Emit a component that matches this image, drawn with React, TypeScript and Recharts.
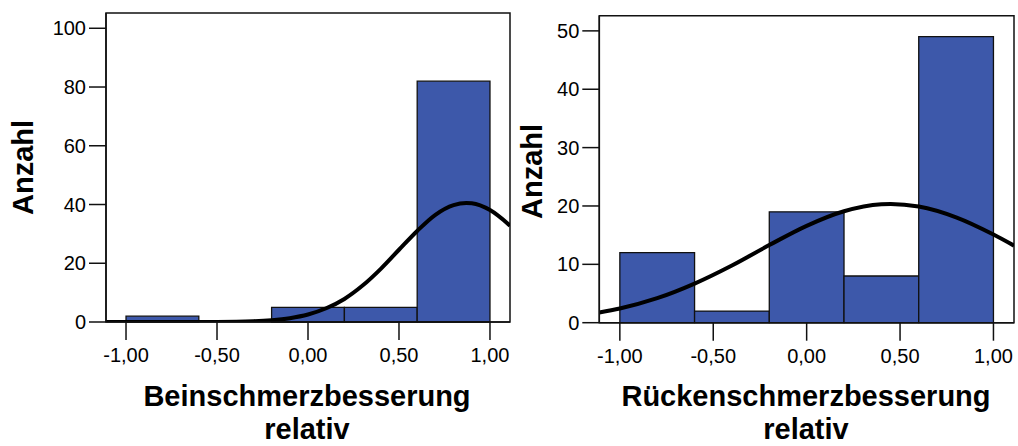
import { ComposedChart, Line, XAxis, YAxis, ReferenceArea } from 'recharts'

// bin edges shared by both histograms
const binEdges = [-1.0, -0.6, -0.2, 0.2, 0.6, 1.0]
const xTicks = [-1.0, -0.5, 0.0, 0.5, 1.0]

// Beinschmerzbesserung relativ
const beinCounts = [2, 0, 5, 5, 82]
const beinTicks = [0, 20, 40, 60, 80, 100]
const beinCurveX = [-1.11, -0.9, -0.7, -0.5, -0.3, -0.2, -0.1, 0.0, 0.1, 0.2, 0.3, 0.4, 0.5, 0.6, 0.7, 0.8, 0.87, 0.9, 1.0, 1.11]
const beinCurveY = [0, 0, 0.01, 0.04, 0.27, 0.62, 1.31, 2.56, 4.67, 7.85, 12.4, 18.1, 24.6, 31.0, 36.5, 39.8, 40.5, 40.4, 38.1, 32.8]

// Rückenschmerzbesserung relativ
const rueckenCounts = [12, 2, 19, 8, 49]
const rueckenTicks = [0, 10, 20, 30, 40, 50]
const rueckenCurveX = [-1.11, -1.0, -0.8, -0.6, -0.4, -0.2, 0.0, 0.2, 0.4, 0.45, 0.6, 0.8, 1.0, 1.11]
const rueckenCurveY = [1.75, 2.44, 4.2, 6.7, 9.8, 13.3, 16.6, 19.1, 20.3, 20.35, 19.9, 18.05, 15.1, 13.2]

const BAR = '#3d58aa'
const INK = '#111'
const X_MIN = -1.11
const X_MAX = 1.11

const fmt = (v: number) => v.toFixed(2).replace('.', ',')
const tickFont = { fontFamily: '"Liberation Sans", Arial, sans-serif', fontSize: 20, fill: '#000' }
const titleFont = { fontFamily: '"Liberation Sans", Arial, sans-serif', fontSize: 29, fontWeight: 700, color: '#000' }

function Histogram({ counts, curveX, curveY, yMax, yTicks, width, margin, yWidth }: {
  counts: number[]
  curveX: number[]
  curveY: number[]
  yMax: number
  yTicks: number[]
  width: number
  margin: { top: number; right: number; bottom: number; left: number }
  yWidth: number
}) {
  const data = curveX.map((x, i) => ({ x, y: curveY[i] }))
  return (
    <ComposedChart width={width} height={446} data={data} margin={margin}>
      <XAxis
        dataKey="x" type="number" domain={[X_MIN, X_MAX]} allowDataOverflow
        ticks={xTicks} tickFormatter={fmt} interval={0}
        tick={tickFont} tickSize={18} tickMargin={8} height={60}
        axisLine={{ stroke: INK, strokeWidth: 1.5 }} tickLine={{ stroke: INK, strokeWidth: 1.5 }}
      />
      <YAxis
        type="number" domain={[0, yMax]} allowDataOverflow ticks={yTicks} interval={0}
        tick={tickFont} tickSize={17} tickMargin={3} width={yWidth}
        axisLine={{ stroke: INK, strokeWidth: 1.5 }} tickLine={{ stroke: INK, strokeWidth: 1.5 }}
      />
      {counts.map((c, i) => c > 0 && (
        <ReferenceArea
          key={i} x1={binEdges[i]} x2={binEdges[i + 1]} y1={0} y2={c}
          fill={BAR} fillOpacity={1} stroke={INK} strokeWidth={1.3}
        />
      ))}
      <ReferenceArea x1={X_MIN} x2={X_MAX} y1={0} y2={yMax} fill="none" stroke={INK} strokeWidth={1.5} />
      <Line
        dataKey="y" type="monotone" stroke="#000" strokeWidth={4}
        dot={false} activeDot={false} isAnimationActive={false}
      />
    </ComposedChart>
  )
}

// x-axis title, two lines; the second sits tight against the bottom edge
function AxisTitle({ cx, lines }: { cx: number; lines: string[] }) {
  const base = { ...titleFont, position: 'absolute' as const, left: cx - 200, width: 400, textAlign: 'center' as const, lineHeight: '24px', height: 24 }
  return (
    <>
      <div style={{ ...base, top: 384 }}>{lines[0]}</div>
      <div style={{ ...base, top: 417 }}>{lines[1]}</div>
    </>
  )
}

function Anzahl({ cx, cy }: { cx: number; cy: number }) {
  return (
    <div style={{
      ...titleFont, position: 'absolute', left: cx - 100, top: cy - 14.5, width: 200, height: 29,
      lineHeight: '29px', textAlign: 'center', transform: 'rotate(-90deg)',
    }}>
      Anzahl
    </div>
  )
}

export default function App() {
  return (
    <div style={{ position: 'absolute', left: 0, top: 0, width: 1018, height: 446, background: '#fff', overflow: 'hidden' }}>
      <div style={{ position: 'absolute', left: 0, top: 0 }}>
        <Histogram
          counts={beinCounts} curveX={beinCurveX} curveY={beinCurveY}
          yMax={105.2} yTicks={beinTicks} width={520} yWidth={106}
          margin={{ top: 13, right: 10, bottom: 64, left: 0 }}
        />
      </div>
      <div style={{ position: 'absolute', left: 500, top: 0 }}>
        <Histogram
          counts={rueckenCounts} curveX={rueckenCurveX} curveY={rueckenCurveY}
          yMax={52.6} yTicks={rueckenTicks} width={518} yWidth={99.3}
          margin={{ top: 15.7, right: 4, bottom: 63.3, left: 0 }}
        />
      </div>
      <Anzahl cx={23.3} cy={167.5} />
      <Anzahl cx={531.7} cy={171} />
      <AxisTitle cx={307} lines={['Beinschmerzbesserung', 'relativ']} />
      <AxisTitle cx={806} lines={['Rückenschmerzbesserung', 'relativ']} />
    </div>
  )
}
